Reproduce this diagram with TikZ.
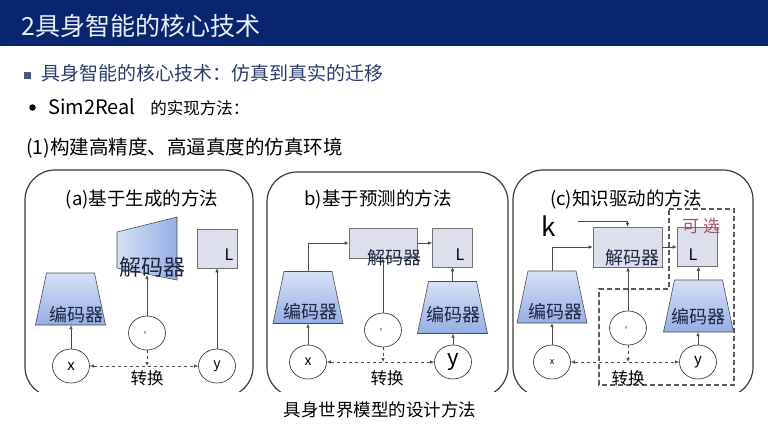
\documentclass[tikz,border=0pt]{standalone}
\usepackage{fontspec}
\setmainfont{Noto Sans CJK SC}
\usetikzlibrary{arrows.meta,shapes.geometric,positioning}
\definecolor{barblue}{RGB}{10,37,112}
\definecolor{titletext}{RGB}{232,238,248}
\definecolor{subblue}{RGB}{44,60,110}
\definecolor{boxgray}{RGB}{60,60,60}
\definecolor{lightbox}{RGB}{221,224,236}
\definecolor{enctop}{RGB}{214,225,246}
\definecolor{encbot}{RGB}{150,174,228}
\definecolor{lbltext}{RGB}{28,36,64}
\definecolor{optred}{RGB}{165,85,105}
\newcommand\fsz[1]{\fontsize{#1}{#1}\selectfont}
\def\encpath{(-35,26) -- (35,26) -- (24,-26) -- (-24,-26) -- cycle}
\tikzset{
  frame/.style={draw=boxgray, line width=1.2pt, rounded corners=30pt},
  enc/.style={inner sep=0pt, minimum width=70pt, minimum height=52pt},
  encshade/.style={draw=black!70, line width=0.6pt, top color=enctop, bottom color=encbot},
  decbox/.style={draw=black!55, line width=0.6pt, fill=lightbox, inner sep=0pt},
  lossbox/.style={draw=black!55, line width=0.6pt, fill=lightbox, inner sep=0pt,
    minimum width=40pt, minimum height=39pt},
  var/.style={ellipse, draw=black!75, line width=0.7pt, fill=white,
    minimum width=37pt, minimum height=34pt, inner sep=0pt},
  arr/.style={draw=black!70, line width=0.6pt, -{Latex[length=4pt,width=3.5pt]}},
  dasharr/.style={draw=black!70, line width=0.7pt, dashed,
    {Latex[length=4pt,width=3.5pt]}-{Latex[length=4pt,width=3.5pt]}},
  dashdown/.style={draw=black!70, line width=0.7pt, dashed, -{Latex[length=4pt,width=3.5pt]}},
  optline/.style={draw=black!65, line width=1.1pt, dash pattern=on 5pt off 3pt},
  lbl/.style={text=lbltext, font=\fsz{18}, inner sep=0pt},
  heading/.style={font=\fsz{18.5}, inner sep=0pt},
}
\begin{document}
\begin{tikzpicture}[x=1pt,y=-1pt]
\useasboundingbox (0,0) rectangle (768,432);
\fill[white] (0,0) rectangle (768,432);
% title bar
\fill[barblue] (0,0) rectangle (768,46);
\node[anchor=west, text=titletext, font=\fsz{25}, inner sep=0pt] (title) at (21,26) {2具身智能的核心技术};
\node[fill=subblue!85, minimum size=7pt, inner sep=0pt] (sq) at (27.5,75.5) {};
\node[anchor=west, text=subblue, font=\fsz{19}, inner sep=0pt] (sub) at (41,73) {具身智能的核心技术：仿真到真实的迁移};
\node[circle, fill=black, minimum size=6.5pt, inner sep=0pt] (dot) at (32.5,107.5) {};
\node[anchor=west, font=\fsz{16.5}, inner sep=0pt] (sim) at (48,107) {{\fsz{20}Sim2Real}\hspace{15pt}的实现方法：};
\node[anchor=west, font=\fsz{19.5}, inner sep=0pt] (env) at (26,148) {(1)构建高精度、高逼真度的仿真环境};

% frames, bottom edge cut off
\begin{scope}
  \clip (0,0) rectangle (768,391);
  \draw[frame] (25,170) rectangle (253,397);
  \draw[frame] (267,172) rectangle (508,397);
  \draw[frame] (513,170) rectangle (753,397);
\end{scope}

% (a)
\node[heading] (a-title) at (142,199) {(a)基于生成的方法};
\node[enc] (a-enc) at (70.5,299) {};
\shade[encshade, shift={(a-enc.center)}] \encpath;
\shade[left color=enctop, right color=encbot, draw=black!70, line width=0.6pt]
  (117,232) -- (177,217) -- (177,280) -- (117,268) -- cycle;
\coordinate (a-dec) at (147,275);
\node[lossbox] (a-L) at (217,248.5) {};
\node[var] (a-x) at (71,366) {};
\node[var] (a-z) at (147,333) {};
\node[var] (a-y) at (217,366) {};
\draw[arr] (a-x.north) -- (a-x.north |- a-enc.south);
\draw[arr] (a-z.north) -- (a-dec);
\draw[arr] (a-y.north) -- (a-L.south);
\draw[dashdown] (a-z.south) -- (a-z.south |- a-x.east);
\draw[dasharr] (a-x.east) -- (a-y.west);
\node[lbl] (a-enclbl) at (76,315) {编码器};
\node[lbl, font=\fsz{22}] (a-declbl) at (152,267) {解码器};
\node[font=\fsz{16}, inner sep=0pt] (a-Llbl) at (229,255) {L};
\node[font=\fsz{15}, inner sep=0pt] (a-xlbl) at (a-x) {x};
\node[font=\fsz{7}, inner sep=0pt] (a-zlbl) at (a-z) {。};
\node[font=\fsz{14}, inner sep=0pt] (a-ylbl) at (a-y) {y};
\node[font=\fsz{16.5}, inner sep=0pt] (a-conv) at (147,378) {转换};

% (b)
\node[heading] (b-title) at (378,199) {b)基于预测的方法};
\node[decbox, minimum width=68pt, minimum height=30pt] (b-dec) at (383,243) {};
\node[lossbox] (b-L) at (452.5,247.5) {};
\node[enc] (b-enc1) at (308,297.5) {};
\node[enc] (b-enc2) at (452.5,307.5) {};
\shade[encshade, shift={(b-enc1.center)}] \encpath;
\shade[encshade, shift={(b-enc2.center)}] \encpath;
\node[var] (b-x) at (308,362) {};
\node[var] (b-z) at (383,330) {};
\node[var] (b-y) at (453,362) {};
\draw[arr] (b-x.north) -- (b-x.north |- b-enc1.south);
\draw[arr] (b-enc1.north) |- (b-dec.west);
\draw[arr] (b-dec.east) -- (b-dec.east -| b-L.west);
\draw[arr] (b-z.north) -- (b-z.north |- b-dec.south);
\draw[arr] (b-y.north) -- (b-y.north |- b-enc2.south);
\draw[arr] (b-enc2.north) -- (b-enc2.north |- b-L.south);
\draw[dashdown] (b-z.south) -- (b-z.south |- b-x.east);
\draw[dasharr] (b-x.east) -- (b-y.west);
\node[lbl] (b-declbl) at (394,258) {解码器};
\node[lbl] (b-enc1lbl) at (310,312) {编码器};
\node[lbl] (b-enc2lbl) at (453,315) {编码器};
\node[font=\fsz{16}, inner sep=0pt] (b-Llbl) at (460,255) {L};
\node[font=\fsz{14}, inner sep=0pt] (b-xlbl) at (b-x) {x};
\node[font=\fsz{7}, inner sep=0pt] (b-zlbl) at (b-z) {。};
\node[font=\fsz{22}, inner sep=0pt] (b-ylbl) at (b-y) {y};
\node[font=\fsz{16.5}, inner sep=0pt] (b-conv) at (387,378) {转换};

% (c)
\node[heading] (c-title) at (626,199) {(c)知识驱动的方法};
\draw[optline] (669,209) -- (734,209) -- (734,385) -- (599,385) -- (599,289) -- (669,289) -- cycle;
\node[decbox, minimum width=69pt, minimum height=40pt] (c-dec) at (627.5,247) {};
\node[lossbox] (c-L) at (697,247) {};
\node[enc] (c-enc1) at (552,297) {};
\node[enc] (c-enc2) at (698.5,306) {};
\shade[encshade, shift={(c-enc1.center)}] \encpath;
\shade[encshade, shift={(c-enc2.center)}] \encpath;
\node[var] (c-x) at (552,362) {};
\node[var] (c-z) at (628,328) {};
\node[var] (c-y) at (698,362) {};
\node[font=\fsz{26}, inner sep=0pt] (c-k) at (549,226) {k};
\coordinate (c-kout) at (578,221);
\draw[arr] (c-kout) -| (c-dec.north);
\draw[arr] (c-x.north) -- (c-x.north |- c-enc1.south);
\draw[arr] (c-enc1.north) |- (c-dec.west);
\draw[arr] (c-dec.east) -- (c-L.west);
\draw[arr] (c-z.north) -- (c-z.north |- c-dec.south);
\draw[arr] (c-y.north) -- (c-y.north |- c-enc2.south);
\draw[arr] (c-enc2.north) -- (c-enc2.north |- c-L.south);
\draw[dashdown] (c-z.south) -- (c-z.south |- c-x.east);
\draw[dasharr] (c-x.east) -- (c-y.west);
\node[lbl] (c-declbl) at (632,258) {解码器};
\node[lbl] (c-enc1lbl) at (555,312) {编码器};
\node[lbl] (c-enc2lbl) at (698,317) {编码器};
\node[font=\fsz{16}, inner sep=0pt] (c-Llbl) at (693,255) {L};
\node[text=optred, font=\fsz{17}, inner sep=0pt] (c-opt) at (701,226) {可\hspace{4pt}选};
\node[font=\fsz{9}, inner sep=0pt] (c-xlbl) at (c-x) {x};
\node[font=\fsz{7}, inner sep=0pt] (c-zlbl) at (c-z) {。};
\node[font=\fsz{15}, inner sep=0pt] (c-ylbl) at (c-y) {y};
\node[font=\fsz{16.5}, inner sep=0pt] (c-conv) at (628,378) {转换};

\node[font=\fsz{17.5}, inner sep=0pt] (caption) at (380,410) {具身世界模型的设计方法};
\end{tikzpicture}
\end{document}
